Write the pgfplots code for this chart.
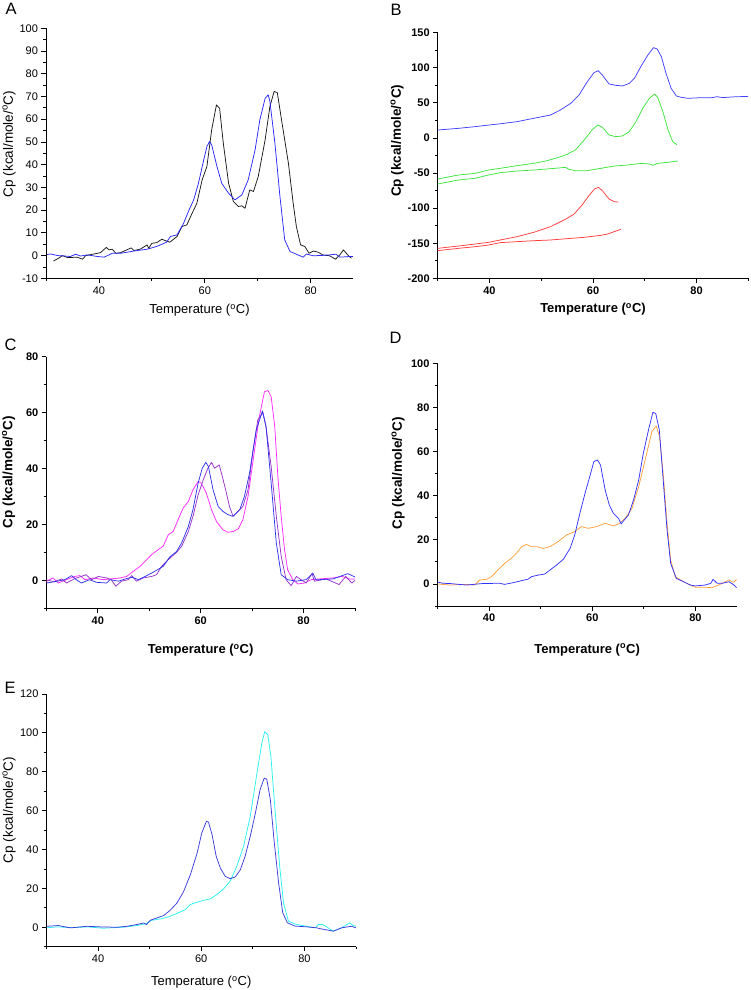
\documentclass[border=0pt]{standalone}
\usepackage{fontspec}
\setmainfont{Liberation Sans}
\usepackage{pgfplots}
\pgfplotsset{compat=1.18}
\definecolor{cA}{RGB}{40,40,255}
\definecolor{cBblue}{RGB}{64,64,255}
\definecolor{cBgreen}{RGB}{60,230,60}
\definecolor{cBred}{RGB}{255,60,60}
\definecolor{cCblue}{RGB}{50,50,240}
\definecolor{cCmag}{RGB}{255,40,255}
\definecolor{cCpur}{RGB}{150,50,200}
\definecolor{cDblue}{RGB}{50,50,255}
\definecolor{cDor}{RGB}{255,160,60}
\definecolor{cEblue}{RGB}{60,60,220}
\definecolor{cEcyan}{RGB}{40,240,240}
\pgfplotsset{
  panel/.style={
    scale only axis,
    anchor=south west,
    axis x line*=bottom, axis y line*=left,
    axis line style={line width=0.8pt,-},
    tick align=outside,
    every tick/.style={line width=0.8pt,black},
    major tick length=4.5pt, minor tick length=2.5pt,
    /pgf/number format/assume math mode=true,
    xmin=30,
    xtick={40,60,80}, minor xtick={30,50,70,90},
    every axis plot/.append style={line width=0.75pt, line join=round},
    xlabel style={at={(axis description cs:0.5,#1)},anchor=center},
  },
  yl/.style 2 args={ylabel style={at={(axis description cs:#1,#2)},anchor=center,rotate=0}},
  plain/.style={
    ticklabel style={font=\fontsize{11}{12}\selectfont},
    xlabel style={font=\fontsize{13}{15}\selectfont},
    ylabel style={font=\fontsize{13.5}{15}\selectfont},
  },
  bold/.style={
    ticklabel style={font=\fontsize{11}{12}\selectfont\bfseries},
    xlabel style={font=\fontsize{13}{15}\selectfont\bfseries},
    ylabel style={font=\fontsize{13.5}{15}\selectfont\bfseries},
  },
}
\newcommand{\xl}{Temperature (\textsuperscript{o}C)}
\newcommand{\yl}{Cp (kcal/mole/\textsuperscript{o}C)}
\begin{document}
\begin{tikzpicture}
\useasboundingbox (0,0) rectangle (750pt,-990pt);
\begin{scope}[every node/.style={font=\fontsize{16.5}{18}\selectfont}]
\node[anchor=base west] at (2pt,-15pt) {A};
\node[anchor=base west] at (387pt,-16pt) {B};
\node[anchor=base west] at (1pt,-350pt) {C};
\node[anchor=base west] at (386pt,-343pt) {D};
\node[anchor=base west] at (1pt,-693pt) {E};
\end{scope}

% ---------- A ----------
\begin{axis}[panel=-0.127, plain, yl={-0.1205}{0.537},
  at={(46pt,-278.3pt)}, width=307pt, height=250pt,
  xmax=88, ymin=-10, ymax=100,
  ytick={-10,0,...,100}, minor ytick={-5,5,...,95},
  xlabel={\xl}, ylabel={\yl},
]
\addplot[black!90] coordinates {
(31.4,-2.4) (32.5,-1.0) (33.1,0) (34.1,-0.9) (35.9,-0.7) (36.9,-1.6) (37.5,0) (39.7,1.0) (40.3,1.3) (41.4,3.6) (41.9,2.5) (42.5,2.8) (43.2,1.0) (44.1,1.3) (46.1,3.4) (46.6,2.2) (47.8,2.8) (49.1,4.7) (49.4,3.2) (50,5.4) (50.9,5.7) (51.9,7.2) (52.5,6.6) (53.4,5.9) (54.75,8.4) (55.7,12.8) (56.6,13.5) (57.6,18.6) (58.5,23) (59.5,33.3) (60.4,39.2) (61.3,55.3) (62.2,66.3) (62.8,64.8) (63.5,49.4) (64.5,31.8) (65.4,23.8) (66.35,21.6) (67,21.9) (67.6,20.8) (68.5,28.9) (69.2,28.2) (70.1,34.8) (71.4,50.9) (72.3,65.6) (73.1,72.2) (73.7,71.7) (74.5,59.7) (75.8,40.6) (76.7,23) (77.3,12.8) (78.1,4.7) (78.9,4) (79.7,1) (80.5,2) (81.4,1.5) (82.3,0.3) (83.6,-0.1) (84.7,-1.6) (85.5,0.3) (86.2,2.5) (87,0.3) (87.7,-1.2)
};
\addplot[cA] coordinates {
(30.2,0.5) (30.9,0.7) (32.2,0) (33.5,-0.2) (34.6,-0.4) (35.6,0.6) (36.5,-0.2) (37.8,0.3) (39.7,-0.4) (41,-0.7) (42.5,1) (44.1,1) (46.6,2.0) (49.1,2.8) (50.9,4) (52.8,5.9) (53.5,8.4) (54.75,9.1) (56,14.2) (56.9,19.4) (57.9,24.5) (58.8,31.8) (59.8,42.1) (60.4,48) (60.9,50.2) (61.3,48.7) (62.3,39.2) (63.2,31.8) (64.5,27.4) (65.7,24.5) (67,26.7) (68.2,33.3) (69.5,46.5) (70.4,59.7) (71.4,69.2) (72,70.7) (72.3,67.8) (73.25,49.4) (74.2,26) (75.1,6.9) (76.1,1.8) (77.6,0.3) (78.6,-0.7) (79.2,0.7) (80.5,-0.1) (82.3,0.1) (83.6,0.3) (84.8,0.6) (85.5,-0.7) (87.4,-0.4) (88,-0.4)
};
\end{axis}

% ---------- B ----------
\begin{axis}[panel=-0.127, bold, yl={-0.131}{0.56},
  at={(437.7pt,-278.3pt)}, width=310.6pt, height=245.6pt,
  xmax=90, ymin=-200, ymax=150,
  ytick={-200,-150,...,150}, minor ytick={-175,-125,...,125},
  xlabel={\xl}, ylabel={\yl},
]
\addplot[cBblue] coordinates {
(30,11.3) (34,13.7) (37.2,16.1) (39.8,18.4) (42.07,20.2) (43.7,21.7) (45.3,23.2) (48.55,28) (50.8,31.3) (51.8,32.7) (53.7,39.9) (55.7,49.3) (57.3,61.2) (58.9,80.2) (60.2,93.1) (61,95.9) (61.8,89.7) (63.1,76.9) (64.4,75) (65.7,74.1) (67,77.8) (68,85) (69.3,102.5) (70.6,118.2) (71.7,128.7) (72.4,126.8) (73.2,115.9) (74.1,92.1) (75.1,70.7) (76.1,59.8) (77.05,57.9) (78.35,56.5) (80.9,57.4) (82.9,57.4) (84,58.8) (85,57.5) (87,58.5) (90,59.3)
};
\addplot[cBgreen] coordinates {
(30,-58.5) (34,-52.8) (37.2,-50.5) (39.8,-45.7) (42.07,-43.3) (45.3,-39.5) (48.55,-36.2) (51.1,-32.4) (53.4,-27.6) (55,-23.3) (56.6,-17.1) (58.3,-2.9) (59.9,12.3) (61,18.5) (61.8,15.2) (63.1,4.2) (64.4,1.85) (65.7,2.8) (67,9) (68.3,23.2) (69.6,42.2) (70.9,56.5) (71.9,62.6) (72.5,57.9) (73.5,37.5) (74.5,11.4) (75.4,-5.3) (76.2,-9.6)
};
\addplot[cBgreen] coordinates {
(30,-65.6) (34,-59.9) (37.2,-57.5) (39.8,-52.8) (42.07,-49.5) (45.3,-47.1) (48.55,-45.7) (51.8,-43.8) (54.7,-41.9) (55.35,-44.7) (56.6,-46.6) (58.9,-46.6) (61.5,-43.3) (64.1,-40) (66.7,-38.5) (69.3,-36.2) (70.9,-37.1) (71.55,-39) (72.5,-36.2) (74.5,-34.7) (76.4,-32.8)
};
\addplot[cBred] coordinates {
(30,-157.3) (34,-154) (37.2,-151.2) (39.8,-148.8) (42.07,-145.4) (45.3,-140.7) (48.55,-134.5) (51.8,-126.4) (54.4,-116.9) (56.3,-108.8) (57.9,-95.5) (59.2,-82.2) (60.3,-72.7) (61.05,-70.3) (61.8,-75.1) (63.1,-87) (64.1,-90.8) (64.9,-91.3)
};
\addplot[cBred] coordinates {
(30,-160.6) (34,-157.3) (37.2,-155) (39.8,-152.6) (42.07,-149.2) (45.3,-147.8) (48.55,-146.4) (51.8,-145.4) (55,-143.5) (58.3,-141.6) (61.5,-138.8) (62.8,-136.9) (64.1,-133.5) (65.4,-130.2)
};
\end{axis}

% ---------- C ----------
\begin{axis}[panel=-0.166, bold, yl={-0.1228}{0.5417},
  at={(46.4pt,-608.3pt)}, width=308.6pt, height=251.6pt,
  xmax=90, ymin=-10, ymax=80,
  ytick={0,20,...,80}, minor ytick={-10,10,...,70},
  xlabel={\xl}, ylabel={\yl},
]
\addplot[cCmag] coordinates {
(30,-0.35) (31.3,0.85) (32.3,-0.95) (33.9,0.25) (35.5,1.4) (36.5,1.7) (37.5,0.25) (39.1,0.85) (41.1,0.25) (42.38,0.5) (44.3,0.85) (45.6,1.4) (46.9,3.2) (48.2,5) (49.5,7.4) (50.45,9.2) (51.75,11) (52.7,12.2) (53.7,16.3) (54.65,17.5) (55.6,21.7) (56.6,25.9) (57.6,28.2) (58.5,32.4) (59.5,35.4) (60.1,34.8) (61.1,31.2) (62.1,25.3) (63.05,21.1) (64.3,18.1) (65.3,17.2) (66.3,17.5) (67.3,18.4) (68.2,21.7) (69.2,30) (70.2,43.1) (71.4,58.6) (72.4,67.5) (73.1,67.9) (73.7,65.7) (74.4,55) (75,37.2) (75.65,22.9) (76.3,11) (76.9,3.8) (77.9,0.25) (78.9,-1.3) (80.2,-0.95) (81.5,0.25) (83.1,0.5) (85.7,0.85) (87.5,1.4) (88.9,0.5) (90,0.5)
};
\addplot[cCpur] coordinates {
(30,0.2) (31.5,-0.5) (33,0.5) (33.9,-0.95) (35.5,0.6) (37.7,2) (38.8,0.25) (40.1,1.4) (41.7,0.85) (42.6,0.25) (43.5,-2.1) (44.6,-0.3) (45.9,0.25) (46.6,1.7) (47.5,-0.3) (48.8,0.85) (50.45,1.4) (51.4,2) (52.4,5) (53.7,7.4) (55.3,10) (56.3,12.2) (57.6,17.5) (58.5,22.9) (59.5,30.6) (60.5,36) (61.4,40.1) (62.1,42.2) (62.7,40.1) (63.6,41.3) (64.2,37.2) (65,31.2) (65.6,26.4) (66.3,22.9) (67.25,24.7) (68.2,26.4) (69.2,32.4) (70.2,46.7) (71.1,57.4) (72.1,60) (72.7,55) (73.7,40.7) (74.7,22.9) (75.65,8.6) (76.6,0.25) (77.6,-1.9) (78.6,1.4) (79.5,0.25) (80.5,-0.95) (81.65,2.4) (82.1,-0.3) (84.4,0.5) (86.9,-1.5) (88.2,1.4) (89.4,-0.95) (90,0)
};
\addplot[cCblue] coordinates {
(30,-0.95) (32,-0.35) (33.6,0.25) (34.9,1.7) (35.8,0.25) (36.8,-0.95) (38.4,0.25) (39.7,-0.7) (41.7,-0.95) (42.38,0.25) (44,-0.3) (45.3,0.5) (46.6,1.1) (47.9,0.25) (49.2,1.4) (50.45,2.6) (51.4,3.6) (52.7,5) (54,8.4) (55.3,10.3) (56.3,13.4) (57.6,19.3) (58.5,25.3) (59.5,34.8) (60.3,40.1) (61,42.2) (61.5,40.7) (62.4,32.4) (63.4,26.4) (64.3,24.7) (65.3,23.5) (66.3,22.9) (67.6,25.3) (68.5,30) (69.5,38.4) (70.8,53.8) (72,60.6) (72.7,55) (73.7,34.8) (74.7,13.4) (75.65,2) (76.9,0.25) (78.6,-0.3) (80.5,0.25) (81.8,2.6) (82.4,0.25) (83.1,0.25) (85.7,0.5) (88.6,2.4) (90,1.2)
};
\end{axis}

% ---------- D ----------
\begin{axis}[panel=-0.181, bold, yl={-0.132}{0.548},
  at={(437.5pt,-606pt)}, width=299.2pt, height=242.7pt,
  xmax=88, ymin=-10, ymax=100,
  ytick={0,20,...,100}, minor ytick={-10,10,...,90},
  xlabel={\xl}, ylabel={\yl},
]
\addplot[cDor] coordinates {
(30,0.0) (32.35,-0.5) (35.6,-0.2) (37.2,-0.5) (38.2,1.8) (39.5,2.1) (40.45,3.3) (41.7,6.3) (43,9.3) (44.3,11.6) (45.3,13.9) (46.3,16.9) (47.25,17.9) (48.2,16.9) (49.2,16.9) (50.5,16.1) (51.8,16.9) (53.4,19.2) (55,22.2) (56.6,23.7) (57.9,26) (59.2,25.2) (60.9,26) (62.5,27.5) (64.1,26.3) (65.1,27.2) (66.35,29.7) (67.7,34.3) (69,44.1) (70.25,56.2) (71.55,69) (72.4,71.6) (73.05,66.7) (73.8,48.6) (74.5,27.5) (75.2,10.8) (76.1,3.3) (77.7,1) (79,-0.5) (80,-1.5) (81.9,-1.5) (83.2,-1.7) (84.5,-0.5) (85.8,1.0) (86.5,1.8) (87.4,0.7) (88,2.1)
};
\addplot[cDblue] coordinates {
(30,0.9) (31,0.3) (32.35,0.2) (35.6,-0.5) (38.8,0.2) (42.1,0.3) (43,-0.2) (44.7,0.6) (46.3,1.5) (47.6,2.2) (48.2,3.3) (49.5,4) (50.8,4.5) (51.8,6.3) (53.1,8.6) (54.4,11.2) (55.7,16.1) (56.6,22.2) (57.6,32) (58.6,41.1) (59.6,49.4) (60.3,55.4) (61,56.2) (61.6,53.9) (62.5,42.6) (63.3,35.8) (64.1,32) (65.1,29.7) (65.6,27.2) (66.2,29) (67,31.2) (68,38) (69,47.1) (69.9,59.2) (70.9,69.8) (71.75,77.8) (72.3,77.3) (73,69.8) (73.8,45.6) (74.5,24.4) (75.2,9.3) (76.3,2.5) (77.7,1) (79,-0.5) (80,-0.9) (81.9,-0.5) (83,0.3) (83.4,2.1) (84.2,0.3) (85.2,0.3) (86.5,1.0) (87.3,-0.2) (88,-1.7)
};
\end{axis}

% ---------- E ----------
\begin{axis}[panel=-0.14, plain, yl={-0.121}{0.541},
  at={(46.5pt,-946.7pt)}, width=309.5pt, height=252.7pt,
  xmax=90, ymin=-10, ymax=120,
  ytick={0,20,...,120}, minor ytick={-10,10,...,110},
  xlabel={\xl}, ylabel={\yl},
]
\addplot[cEcyan] coordinates {
(30,-0.3) (32,0.2) (35,-0.2) (38,0.2) (41,-0.5) (42.39,-0.3) (44.97,0.05) (47.55,0.9) (49.2,1.8) (50.45,3.6) (52.1,4.3) (53.7,5.4) (55.3,7.1) (56.9,9.1) (57.9,11.7) (59.2,12.9) (60.5,13.9) (61.75,14.6) (63,16.8) (64.3,19.7) (65.6,23.7) (66.9,31.4) (68.2,41.6) (69.5,57.1) (70.8,79.3) (71.75,94.7) (72.3,100.7) (72.9,99) (73.5,87.9) (74.3,60.5) (75.2,31.4) (75.95,12.5) (76.9,3.1) (78.5,1.4) (80.5,0.5) (82.1,-0.3) (82.7,1.4) (83.6,1.4) (84.6,-0.3) (85.6,-2.0) (87.2,-0.3) (88.8,2.3) (89.4,0.9) (90,0.5)
};
\addplot[cEblue] coordinates {
(30,0.5) (32.3,0.9) (34.6,-0.3) (37.9,0.5) (40.4,0.2) (43.6,0) (45.6,0.5) (47.5,1.4) (48.8,2.2) (49.4,1.4) (50.1,3.6) (51.4,4.8) (52.7,6) (54,8.8) (55.3,12.5) (56.6,18.5) (57.9,27.1) (59.2,38.2) (60.1,48.5) (61,54.5) (61.4,54.1) (62.1,47.6) (62.9,36.5) (63.7,30.5) (64.65,26.2) (65.6,25) (66.6,25.9) (67.6,29.7) (68.5,36.5) (69.5,46.8) (70.5,58.8) (71.4,70.7) (72.2,76.7) (72.7,76.2) (73.4,65.6) (74.1,45.1) (75,22.8) (75.8,7.4) (76.7,2.3) (78.2,0.6) (80.5,0.2) (82.4,-0.3) (83.3,-0.85) (85.6,-2.0) (87.2,-0.3) (89.1,0.5) (90,-0.3)
};
\end{axis}
\end{tikzpicture}
\end{document}
